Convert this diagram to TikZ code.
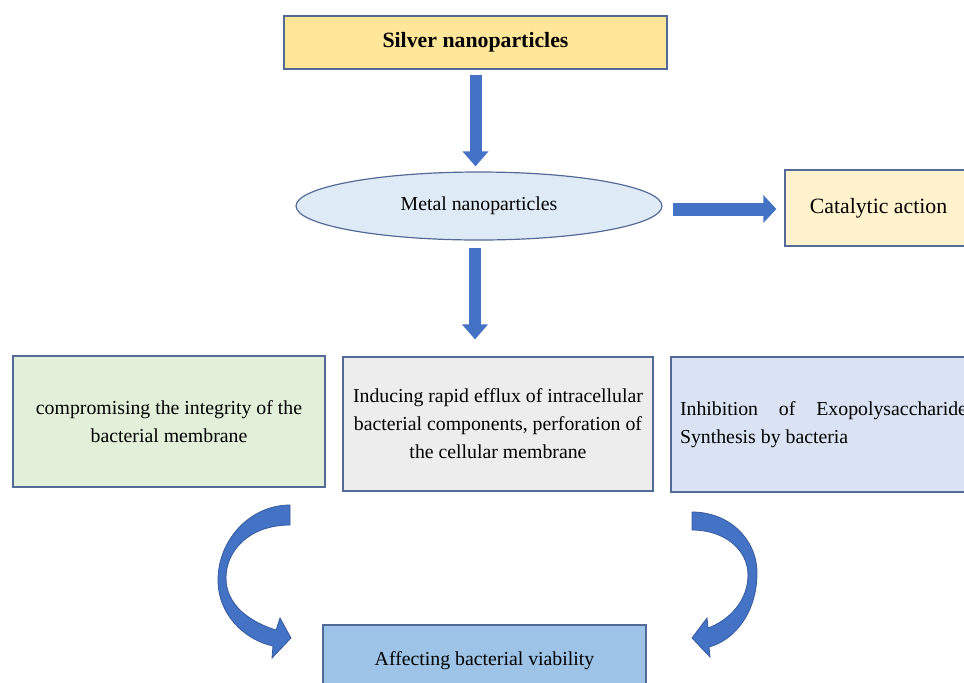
\documentclass[tikz,border=0pt]{standalone}
\usepackage{fontspec}
\setmainfont{Liberation Serif}
\usetikzlibrary{arrows.meta,shapes.geometric}
\definecolor{arrowblue}{RGB}{68,114,196}
\definecolor{edgeblue}{RGB}{84,106,150}
\definecolor{goldfill}{RGB}{255,230,153}
\definecolor{creamfill}{RGB}{255,242,204}
\definecolor{iceblue}{RGB}{222,235,247}
\definecolor{mintfill}{RGB}{226,240,217}
\definecolor{greyfill}{RGB}{237,237,237}
\definecolor{paleblue}{RGB}{218,227,243}
\definecolor{skyfill}{RGB}{157,195,230}

\begin{document}
\begin{tikzpicture}[x=0.5pt,y=-0.5pt,
  box/.style={draw=edgeblue,line width=0.6pt,inner sep=0pt,align=center,
    font=\fontsize{9.9}{14}\selectfont},
  blockarrow/.style={draw=arrowblue,line width=6pt,
    -{Triangle[width=12.5pt,length=7.5pt]}},
  bendarrow/.style={fill=arrowblue,draw=arrowblue!80!black,line width=0.4pt}
]
  \useasboundingbox (0,0) rectangle (964,682);

  % Top
  \node[box,fill=goldfill,minimum width=191.5pt,minimum height=26.5pt,
    font=\fontsize{10.9}{13}\bfseries\selectfont] (silver) at (475.5,42.5) {Silver nanoparticles};
  \node[box,ellipse,fill=iceblue,minimum width=183pt,minimum height=34pt] (metal) at (479,206) {Metal nanoparticles};
  \node[box,fill=creamfill,minimum width=93.5pt,minimum height=38pt,
    font=\fontsize{10.9}{13}\selectfont] (cat) at (878.5,208) {Catalytic action};

  % Row of effects
  \node[box,fill=mintfill,minimum width=156pt,minimum height=65.5pt] (boxA) at (169,421.5)
    {compromising the integrity of the\\bacterial membrane};
  \node[box,fill=greyfill,minimum width=155pt,minimum height=67pt] (boxB) at (498,424)
    {Inducing rapid efflux of intracellular\\bacterial components, perforation of\\the cellular membrane};
  \node[box,fill=paleblue,align=justify,text width=143.5pt,inner xsep=4.5pt,minimum height=67.5pt] (boxC) at (823.5,424.5)
    {Inhibition of Exopolysaccharide Synthesis by bacteria};

  % Result
  \node[box,fill=skyfill,minimum width=161.5pt,minimum height=36pt] (result) at (484.5,661) {Affecting bacterial viability};

  % Arrows
  \draw[blockarrow,shorten <=2.5pt,shorten >=2.5pt] (silver.south) -- (silver.south |- metal.north);
  \draw[blockarrow,line width=6.5pt,-{Triangle[width=13.5pt,length=6.5pt]},shorten <=5pt,shorten >=4pt]
    ([yshift=-1.5pt]metal.east) -- ([yshift=-1.5pt]metal.east -| cat.west);
  \draw[blockarrow,shorten <=3.5pt,shorten >=8.5pt] ([xshift=-2pt]metal.south) -- ([xshift=-2pt]metal.south |- boxB.north);

  % Curved arrows
  \draw[bendarrow] (290,505) .. controls (250,505) and (218,540) .. (218,580)
    .. controls (218,615) and (245,640) .. (273,646) -- (272,658) -- (291,638) -- (280,618) -- (276,630)
    .. controls (250,622) and (226,605) .. (226,578) .. controls (226,550) and (250,525) .. (290,525) -- cycle;
  \draw[bendarrow] (692,512) .. controls (730,512) and (757,540) .. (757,573)
    .. controls (757,612) and (735,640) .. (709,647) -- (710,657) -- (692,638) -- (707,618) -- (708,628)
    .. controls (730,620) and (748,600) .. (748,575) .. controls (748,550) and (725,530) .. (692,530) -- cycle;
\end{tikzpicture}
\end{document}
